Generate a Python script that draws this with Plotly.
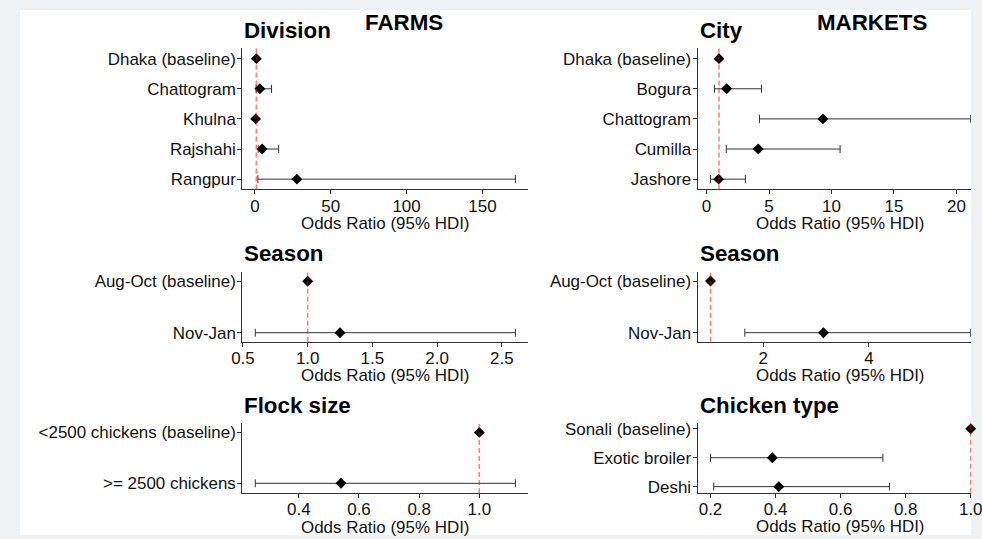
import plotly.graph_objects as go

W, H = 982, 539
REF = 1.0  # odds-ratio reference line

# ---------------- data ----------------
div_labels = ["Dhaka (baseline)", "Chattogram", "Khulna", "Rajshahi", "Rangpur"]
div_or = [1.0, 3.3, 0.5, 4.8, 27.7]
div_lo = [1.0, 0.85, 0.27, 2.2, 2.0]
div_hi = [1.0, 11.0, 1.4, 15.7, 171.7]

city_labels = ["Dhaka (baseline)", "Bogura", "Chattogram", "Cumilla", "Jashore"]
city_or = [1.0, 1.61, 9.31, 4.14, 0.97]
city_lo = [1.0, 0.63, 4.24, 1.58, 0.32]
city_hi = [1.0, 4.40, 21.14, 10.69, 3.11]

fseason_labels = ["Aug-Oct (baseline)", "Nov-Jan"]
fseason_or = [1.0, 1.25]
fseason_lo = [1.0, 0.595]
fseason_hi = [1.0, 2.605]

mseason_labels = ["Aug-Oct (baseline)", "Nov-Jan"]
mseason_or = [1.0, 3.14]
mseason_lo = [1.0, 1.65]
mseason_hi = [1.0, 5.93]

flock_labels = ["<2500 chickens (baseline)", ">= 2500 chickens"]
flock_or = [1.0, 0.54]
flock_lo = [1.0, 0.255]
flock_hi = [1.0, 1.12]

chick_labels = ["Sonali (baseline)", "Exotic broiler", "Deshi"]
chick_or = [1.0, 0.39, 0.41]
chick_lo = [1.0, 0.20, 0.21]
chick_hi = [1.0, 0.73, 0.75]

section_titles = ["FARMS", "MARKETS"]
x_title = "Odds Ratio (95% HDI)"

# ---------------- layout geometry ----------------
# target positions are given in picture pixels; the photographed page shows up
# slightly inset/scaled, so convert target pixels -> page pixels.
OX, OY, SX, SY = 10.0, 3.0, 0.985, 0.987
def px(X):
    return (X - OX) / SX
def py(Y):
    return (Y - OY) / SY

FONT = "Liberation Sans, Arial, sans-serif"
TXT = "#111111"
AX = "#333333"
FS = 16.7 / SX
FS_T = 22 / SX
VIS_R = OX + SX * W               # rightmost visible picture pixel
COL_LEFT = [243.0, 531.3]
COL_RIGHT = [701.7, VIS_R]
FULL_W = 288.4                    # full (uncropped) panel width, picture px

panels = [
    dict(labels=div_labels, est=div_or, lo=div_lo, hi=div_hi, col=0,
         top=48.4, bot=189.4, pad=0.34, title="Division", ty=30.8, dtick=50, fmt=None),
    dict(labels=city_labels, est=city_or, lo=city_lo, hi=city_hi, col=1,
         top=48.4, bot=189.4, pad=0.34, title="City", ty=30.8, dtick=5, fmt=None),
    dict(labels=fseason_labels, est=fseason_or, lo=fseason_lo, hi=fseason_hi, col=0,
         top=272.2, bot=341.7, pad=0.175, title="Season", ty=253.5, dtick=0.5, fmt=".1f"),
    dict(labels=mseason_labels, est=mseason_or, lo=mseason_lo, hi=mseason_hi, col=1,
         top=272.0, bot=341.7, pad=0.175, title="Season", ty=253.5, dtick=2, fmt=None),
    dict(labels=flock_labels, est=flock_or, lo=flock_lo, hi=flock_hi, col=0,
         top=422.7, bot=493.0, pad=0.19, title="Flock size", ty=405.3, dtick=0.2, fmt=".1f"),
    dict(labels=chick_labels, est=chick_or, lo=chick_lo, hi=chick_hi, col=1,
         top=422.7, bot=492.7, pad=0.21, title="Chicken type", ty=405.3, dtick=0.2, fmt=".1f"),
]

fig = go.Figure()
layout = dict(
    width=W, height=H, margin=dict(l=0, r=0, t=0, b=0),
    paper_bgcolor="#eef2f5", plot_bgcolor="rgba(0,0,0,0)",
    showlegend=False, font=dict(family=FONT, color=TXT, size=FS),
)
shapes = [dict(type="rect", xref="paper", yref="paper", x0=px(19) / W, x1=1.0,
               y0=0, y1=1 - py(10) / H, fillcolor="white", line=dict(width=0), layer="below")]
annotations = []

for i, p in enumerate(panels, start=1):
    xs = "x" if i == 1 else f"x{i}"
    ys = "y" if i == 1 else f"y{i}"
    n = len(p["labels"])
    ypos = list(range(n))
    fig.add_trace(go.Scatter(
        x=p["est"], y=ypos, xaxis=xs, yaxis=ys, mode="markers",
        marker=dict(symbol="diamond", size=8.4, color="black"),
        error_x=dict(type="data", symmetric=False,
                     array=[h - e for h, e in zip(p["hi"], p["est"])],
                     arrayminus=[e - l for e, l in zip(p["est"], p["lo"])],
                     color=AX, thickness=1, width=4),
        cliponaxis=False, hoverinfo="skip",
    ))
    # ggplot-like 5 % expansion of the continuous axis
    dmin, dmax = min(p["lo"]), max(p["hi"])
    span = dmax - dmin
    r0, r1 = dmin - 0.05 * span, dmax + 0.05 * span
    cols = COL_LEFT if p["col"] == 0 else COL_RIGHT
    if p["col"] == 1:  # right column is cut by the picture edge
        r1 = r0 + (r1 - r0) * (cols[1] - cols[0]) / FULL_W
    xd = [max(0.0, px(cols[0]) / W), min(1.0, px(cols[1]) / W)]
    yd = [1 - py(p["bot"]) / H, 1 - py(p["top"]) / H]
    xa = dict(domain=xd, anchor=ys, range=[r0, r1], dtick=p["dtick"], tick0=0,
              showline=True, linecolor=AX, linewidth=1, ticks="outside", ticklen=4,
              tickcolor=AX, tickwidth=1, showgrid=False, zeroline=False,
              ticklabeloverflow="allow", ticklabelstandoff=-3,
              tickfont=dict(family=FONT, size=FS, color=TXT))
    if p["fmt"]:
        xa["tickformat"] = p["fmt"]
    ya = dict(domain=yd, anchor=xs, range=[n - 1 + p["pad"], -p["pad"]],
              tickvals=ypos, ticktext=p["labels"],
              showline=True, linecolor=AX, linewidth=1, ticks="outside", ticklen=4,
              tickcolor=AX, tickwidth=1, showgrid=False, zeroline=False,
              ticklabelstandoff=-2,
              tickfont=dict(family=FONT, size=FS, color=TXT))
    layout["xaxis" if i == 1 else f"xaxis{i}"] = xa
    layout["yaxis" if i == 1 else f"yaxis{i}"] = ya
    # dashed reference line at OR = 1
    shapes.append(dict(type="line", xref=xs, yref=f"{ys} domain", x0=REF, x1=REF, y0=0, y1=1,
                       line=dict(color="rgba(255,0,0,0.5)", width=1.6, dash="5px,3px"),
                       layer="above"))
    # panel title
    annotations.append(dict(text=f"<b>{p['title']}</b>", xref="paper", yref="paper",
                            x=px(cols[0]) / W, y=1 - py(p["ty"]) / H,
                            xanchor="left", yanchor="middle", showarrow=False,
                            font=dict(family=FONT, size=FS_T, color="black")))
    # x-axis title, centred on the full (uncropped) panel
    cx = cols[0] + FULL_W / 2
    annotations.append(dict(text=x_title, xref="paper", yref="paper",
                            x=px(cx) / W, y=1 - py(p["bot"] + 34) / H,
                            xanchor="center", yanchor="middle", showarrow=False,
                            font=dict(family=FONT, size=FS, color=TXT)))

for t, cx in zip(section_titles, [405.8, 878.0]):
    annotations.append(dict(text=f"<b>{t}</b>", xref="paper", yref="paper",
                            x=px(cx) / W, y=1 - py(22) / H, xanchor="center", yanchor="middle",
                            showarrow=False, font=dict(family=FONT, size=FS_T, color="black")))

layout["shapes"] = shapes
layout["annotations"] = annotations
fig.update_layout(**layout)
fig.write_html(
    "out.html",
    config={"displayModeBar": False, "staticPlot": True},
    post_script="document.documentElement.style.margin='0';document.body.style.margin='0';"
                "document.body.style.background='#eef2f5';"
                "document.body.style.overflow='hidden';document.documentElement.style.overflow='hidden';",
)
